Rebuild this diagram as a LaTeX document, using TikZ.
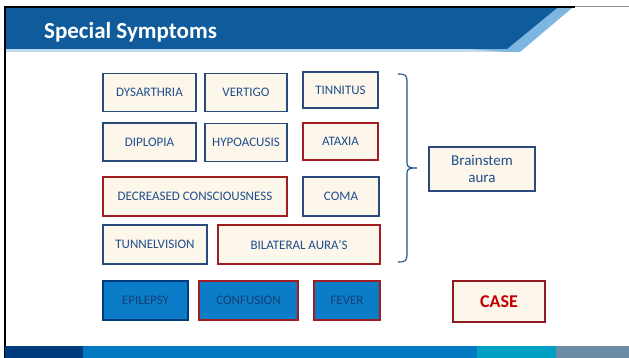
\documentclass[tikz,border=0pt]{standalone}
\usepackage{fontspec}
\setmainfont{Carlito}
\usetikzlibrary{shadows}
\definecolor{hdrblue}{HTML}{0F5B9C}
\definecolor{hdrlight}{HTML}{7DB6E0}
\definecolor{hdredge}{HTML}{BFD9EE}
\definecolor{cream}{HTML}{FDF6EA}
\definecolor{navyline}{HTML}{2A4A7E}
\definecolor{redline}{HTML}{A11D22}
\definecolor{txtblue}{HTML}{1F4E8C}
\definecolor{midblue}{HTML}{0A7CC8}
\definecolor{dimtext}{HTML}{163F72}
\definecolor{barnavy}{HTML}{003B7B}
\definecolor{barblue}{HTML}{0079C1}
\definecolor{barteal}{HTML}{00A0C2}
\definecolor{bargray}{HTML}{6B8CA6}
\definecolor{casered}{HTML}{C00000}
\tikzset{
  x=1pt, y=-1pt,
  symbox/.style={draw=navyline, line width=1.5pt, fill=cream, text=txtblue,
    font=\fontsize{13}{15}\selectfont, inner sep=0pt,
    drop shadow={opacity=0.35, shadow xshift=1pt, shadow yshift=-1pt}},
  redbox/.style={symbox, draw=redline},
  bluebox/.style={symbox, fill=midblue, text=dimtext},
  brace/.style={draw=txtblue, line width=1.1pt},
}
\begin{document}
\begin{tikzpicture}
\useasboundingbox (0,0) rectangle (629,358);
\fill[white] (0,0) rectangle (629,358);
% header band with slanted end
\fill[hdredge] (5,49) rectangle (505,52);
\fill[hdrlight] (5,8) -- (572,8) -- (520,52) -- (505,52) -- cycle;
\fill[hdrblue] (5,8) -- (557,8) -- (507,49) -- (5,49) -- cycle;
\draw[black, line width=1.6pt] (4,7) -- (575,7);
\draw[black!45, line width=1pt] (575,7) -- (629,7);
\draw[black, line width=1.8pt] (5,7) -- (5,358);
\node[anchor=base west, text=white, font=\fontsize{23}{26}\bfseries\selectfont, inner sep=0pt] (title) at (44,39) {Special Symptoms};
% footer bar
\fill[barnavy] (5,346) rectangle (83,358);
\fill[barblue] (83,346) rectangle (477,358);
\fill[barteal] (477,346) rectangle (556,358);
\fill[bargray] (556,346) rectangle (629,358);
% symptom boxes
\node[symbox, minimum width=93pt, minimum height=38pt] (dys) at (149.5,92.5) {DYSARTHRIA};
\node[symbox, minimum width=82pt, minimum height=38pt] (ver) at (246,92.5) {VERTIGO};
\node[symbox, minimum width=75pt, minimum height=36pt] (tin) at (340.5,90) {TINNITUS};
\node[symbox, minimum width=93pt, minimum height=38pt] (dip) at (149.5,142) {DIPLOPIA};
\node[symbox, minimum width=82pt, minimum height=38pt] (hyp) at (246,142.5) {HYPOACUSIS};
\node[redbox, minimum width=75pt, minimum height=37pt] (ata) at (340.5,141.5) {ATAXIA};
\node[redbox, minimum width=184pt, minimum height=39pt] (dec) at (195,196.5) {DECREASED CONSCIOUSNESS};
\node[symbox, minimum width=76pt, minimum height=39pt] (com) at (341,196.5) {COMA};
\node[symbox, minimum width=104pt, minimum height=39pt] (tun) at (155,244.5) {TUNNELVISION};
\node[redbox, minimum width=162pt, minimum height=39pt] (bil) at (299,244.5) {BILATERAL AURA’S};
\node[bluebox, draw=barnavy, minimum width=85pt, minimum height=39pt] (epi) at (145.5,300.5) {EPILEPSY};
\node[bluebox, draw=redline, minimum width=99pt, minimum height=39pt] (con) at (248.5,300.5) {CONFUSION};
\node[bluebox, draw=redline, minimum width=66pt, minimum height=39pt] (fev) at (347,300.5) {FEVER};
% grouping brace
\coordinate (tip) at (417,168);
\draw[brace] (398,74) .. controls (405,74) and (407,75) .. (407,81)
  -- (407,163) .. controls (407,167) and (409,168) .. (tip)
  .. controls (409,168) and (407,169) .. (407,173)
  -- (407,255) .. controls (407,261) and (405,262) .. (398,262);
\node[symbox, minimum width=106pt, minimum height=44pt, align=center,
  font=\fontsize{15}{17}\selectfont] (bsa) at (482,169) {Brainstem\\aura};
\node[redbox, draw=redline!90!black, line width=1.8pt, minimum width=92pt, minimum height=41pt,
  text=casered, font=\fontsize{18}{20}\bfseries\selectfont] (case) at (499,301.5) {CASE};
\end{tikzpicture}
\end{document}
